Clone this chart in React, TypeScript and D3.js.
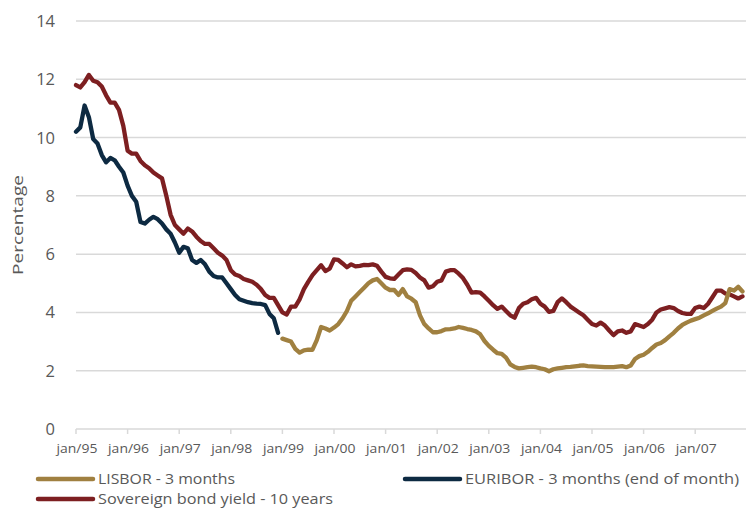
import React from "react";
import * as d3 from "d3";

const yearLabels = ["jan/95","jan/96","jan/97","jan/98","jan/99","jan/00","jan/01","jan/02","jan/03","jan/04","jan/05","jan/06","jan/07"];
const yTicks = [0, 2, 4, 6, 8, 10, 12, 14];

// Sovereign bond yield - 10 years, monthly Jan 1995 - Dec 2007
const sovereign = [
  11.8, 11.72, 11.9, 12.15, 11.95, 11.9, 11.75, 11.45, 11.2, 11.2, 10.95, 10.4,
  9.55, 9.45, 9.45, 9.2, 9.05, 8.95, 8.8, 8.7, 8.6, 8.0, 7.35, 7.0,
  6.85, 6.7, 6.88, 6.78, 6.6, 6.45, 6.35, 6.35, 6.2, 6.05, 5.95, 5.8,
  5.45, 5.3, 5.25, 5.15, 5.1, 5.05, 4.95, 4.8, 4.6, 4.5, 4.5, 4.25,
  4.0, 3.93, 4.2, 4.2, 4.45, 4.8, 5.05, 5.28, 5.45, 5.62, 5.42, 5.5,
  5.82, 5.8, 5.68, 5.55, 5.65, 5.58, 5.6, 5.63, 5.62, 5.65, 5.6, 5.4,
  5.22, 5.17, 5.15, 5.3, 5.45, 5.48, 5.46, 5.35, 5.2, 5.1, 4.85, 4.9,
  5.05, 5.1, 5.4, 5.45, 5.45, 5.33, 5.18, 4.95, 4.68, 4.7, 4.68, 4.55,
  4.4, 4.25, 4.12, 4.2, 4.05, 3.9, 3.82, 4.15, 4.3, 4.35, 4.45, 4.5,
  4.3, 4.2, 4.02, 4.05, 4.35, 4.48, 4.35, 4.2, 4.1, 4.0, 3.9, 3.75,
  3.6, 3.55, 3.65, 3.55, 3.38, 3.22, 3.35, 3.38, 3.3, 3.35, 3.6, 3.55,
  3.5, 3.6, 3.75, 4.0, 4.1, 4.14, 4.18, 4.15, 4.05, 3.98, 3.95, 3.95,
  4.15, 4.2, 4.15, 4.3, 4.52, 4.75, 4.75, 4.65, 4.62, 4.55, 4.48, 4.55,
];

// EURIBOR - 3 months (end of month), Jan 1995 - Dec 1998
const euribor = [
  10.2, 10.35, 11.1, 10.7, 9.95, 9.8, 9.4, 9.15, 9.3, 9.22, 9.0, 8.8,
  8.35, 8.0, 7.8, 7.1, 7.05, 7.18, 7.28, 7.2, 7.05, 6.85, 6.7, 6.4,
  6.05, 6.25, 6.2, 5.8, 5.7, 5.8, 5.65, 5.4, 5.25, 5.2, 5.2, 5.0,
  4.8, 4.6, 4.45, 4.4, 4.35, 4.32, 4.3, 4.29, 4.25, 3.95, 3.8, 3.3,
];

// LISBOR - 3 months, Jan 1999 - Dec 2007
const lisbor = [
  3.1, 3.05, 3.0, 2.75, 2.62, 2.7, 2.72, 2.72, 3.05, 3.5, 3.45, 3.38,
  3.48, 3.6, 3.8, 4.05, 4.4, 4.55, 4.7, 4.85, 5.0, 5.1, 5.15, 5.0,
  4.85, 4.77, 4.77, 4.6, 4.8, 4.55, 4.47, 4.35, 3.9, 3.6, 3.45, 3.32,
  3.32, 3.36, 3.42, 3.43, 3.45, 3.5, 3.47, 3.43, 3.4, 3.35, 3.25, 3.02,
  2.85, 2.72, 2.6, 2.58, 2.45, 2.22, 2.13, 2.08, 2.1, 2.12, 2.14, 2.12,
  2.08, 2.05, 1.98, 2.05, 2.08, 2.1, 2.12, 2.13, 2.15, 2.17, 2.18, 2.16,
  2.15, 2.14, 2.13, 2.12, 2.12, 2.12, 2.14, 2.16, 2.12, 2.18, 2.4, 2.5,
  2.55, 2.65, 2.78, 2.9, 2.95, 3.05, 3.18, 3.3, 3.45, 3.57, 3.65, 3.72,
  3.77, 3.82, 3.9, 3.97, 4.05, 4.13, 4.2, 4.32, 4.8, 4.75, 4.88, 4.72,
];
const lisborStart = 48;

const COLORS = { lisbor: "#a08040", euribor: "#0d2a42", sovereign: "#7d1f21" };
const TEXT = "#595959";
const GRID = "#d9d9d9";
const FONT = "'Open Sans', sans-serif";

export default function App() {
  const W = 746, H = 508;
  const x = d3.scaleLinear().domain([0, 156]).range([76, 746.8]);
  const y = d3.scaleLinear().domain([0, 14]).range([429, 21]);
  const line = d3.line<[number, number]>().x(d => x(d[0])).y(d => y(d[1]));

  const sovPts = sovereign.map((v, i) => [i, v] as [number, number]);
  const eurPts = euribor.map((v, i) => [i, v] as [number, number]);
  const lisPts = lisbor.map((v, i) => [i + lisborStart, v] as [number, number]);

  const legend = [
    { label: "LISBOR - 3 months", color: COLORS.lisbor, lx: 38, ly: 479, len: 137 },
    { label: "EURIBOR - 3 months (end of month)", color: COLORS.euribor, lx: 405, ly: 479, len: 274 },
    { label: "Sovereign bond yield - 10 years", color: COLORS.sovereign, lx: 38, ly: 499, len: 235 },
  ];

  return (
    <div style={{ position: "absolute", left: 0, top: 0 }}>
      <svg width={W} height={H} style={{ display: "block", fontFamily: FONT }}>
        <rect width={W} height={H} fill="#fff" />
        {yTicks.filter(t => t > 0).map(t => (
          <line key={t} x1={76} x2={746} y1={y(t)} y2={y(t)} stroke={GRID} strokeWidth={1.5} />
        ))}
        <line x1={76} x2={746} y1={y(0)} y2={y(0)} stroke={GRID} strokeWidth={1.5} />
        {yearLabels.map((lab, k) => (
          <g key={lab}>
            <line x1={x(k * 12)} x2={x(k * 12)} y1={y(0)} y2={y(0) + 5} stroke={GRID} strokeWidth={1.5} />
            <text x={x(k * 12) + 1} y={453} textAnchor="middle" fontSize={12.5} fill={TEXT}
              textLength={41} lengthAdjust="spacingAndGlyphs">{lab}</text>
          </g>
        ))}
        {yTicks.map(t => (
          <text key={t} x={55} y={y(t)} dy="0.36em" textAnchor="end" fontSize={16.5} fill={TEXT}>{t}</text>
        ))}
        <text transform={`translate(23,${(y(0) + y(14)) / 2}) rotate(-90)`} textAnchor="middle" fontSize={14.5} fill={TEXT}
          textLength={100} lengthAdjust="spacingAndGlyphs">Percentage</text>

        <path d={line(sovPts) || ""} fill="none" stroke={COLORS.sovereign} strokeWidth={4.3} strokeLinejoin="round" strokeLinecap="round" />
        <path d={line(lisPts) || ""} fill="none" stroke={COLORS.lisbor} strokeWidth={4.3} strokeLinejoin="round" strokeLinecap="round" />
        <path d={line(eurPts) || ""} fill="none" stroke={COLORS.euribor} strokeWidth={4.3} strokeLinejoin="round" strokeLinecap="round" />

        {legend.map(l => (
          <g key={l.label}>
            <line x1={l.lx} x2={l.lx + 55} y1={l.ly} y2={l.ly} stroke={l.color} strokeWidth={4.5} strokeLinecap="round" />
            <text x={l.lx + 60} y={l.ly} dy="0.36em" fontSize={14.5} fill={TEXT}
              textLength={l.len} lengthAdjust="spacingAndGlyphs">{l.label}</text>
          </g>
        ))}
      </svg>
    </div>
  );
}
